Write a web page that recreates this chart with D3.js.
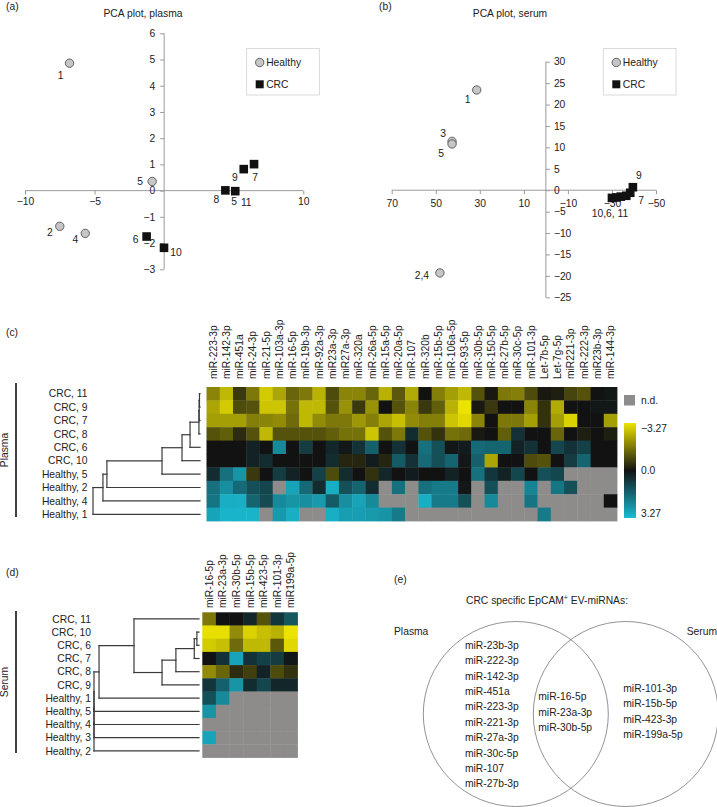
<!DOCTYPE html>
<html>
<head>
<meta charset="utf-8">
<script src="https://cdnjs.cloudflare.com/ajax/libs/d3/7.8.5/d3.min.js"></script>
<style>
body { margin: 0; background: #fff; }
text { font-family: "Liberation Sans", Arial, Helvetica, sans-serif; fill: #222; }
</style>
</head>
<body>
<div id="fig"></div>
<script>
// ---- data ----
// PCA scores [label, PC1, PC2]
var plasmaHealthy = [["1", -6.8, 4.86], ["5", -0.86, 0.35], ["2", -7.5, -1.36], ["4", -5.67, -1.63]];
var plasmaCrc = [["6", -1.26, -1.75], ["10", -0.01, -2.18], ["8", 4.4, 0.01], ["11", 5.11, -0.02], ["9", 5.72, 0.82], ["7", 6.46, 1.01]];
var serumHealthy = [["1", 31.4, 23.4], ["3", 42.6, 11.4], ["5", 42.6, 10.8], ["2,4", 48.1, -19.3]];
var serumCrc = [["10", -30, -1.8], ["6", -32, -1.7], ["11", -34, -1.5], ["8", -36.5, -1.3], ["7", -38.3, -0.6], ["9", -39.5, 0.7]];

var plasmaXTicks = [-10, -5, 5, 10];
var plasmaYTicks = [-3, -2, -1, 0, 1, 2, 3, 4, 5, 6];
var serumXTicks = [70, 50, 30, 10, -10, -30, -50];
var serumYTicks = [-25, -20, -15, -10, -5, 0, 5, 10, 15, 20, 25, 30];

var plasmaMirs = ["miR-223-3p", "miR-142-3p", "miR-451a", "miR-24-3p", "miR-21-5p", "miR-103a-3p", "miR-16-5p",
  "miR-19b-3p", "miR-92a-3p", "miR23a-3p", "miR27a-3p", "miR-320a", "miR-26a-5p", "miR-15a-5p", "miR-20a-5p",
  "miR-107", "miR-320b", "miR-15b-5p", "miR-106a-5p", "miR-93-5p", "miR-30b-5p", "miR-150-5p", "miR-27b-5p",
  "miR-30c-5p", "miR-101-3p", "Let-7b-5p", "Let-7g-5p", "miR221-3p", "miR-222-3p", "miR23b-3p", "miR-144-3p"];
var plasmaSamples = ["CRC, 11", "CRC, 9", "CRC, 7", "CRC, 8", "CRC, 6", "CRC, 10", "Healthy, 5", "Healthy, 2", "Healthy, 4", "Healthy, 1"];
// null = n.d.
var plasmaValues = [
  [-1.8, -2.6, -0.6, -1.6, -2.9, -2.3, -1.3, -1.6, -2.5, -0.9, -1.8, -1.8, -1.3, -2.5, -1.1, -2.4, 0, -1.7, -2.2, -2.6, -1.0, -0.1, -1.6, -1.7, -0.9, -0.1, -0.2, -0.8, -1.0, 0, 0.1],
  [-2.3, -2.9, -0.9, -1.0, -2.8, -2.8, -1.5, -2.6, -2.6, -1.0, -2.0, -0.6, -2.0, 0, -1.0, -1.8, -0.6, -1.2, -2.5, -3.27, -0.1, -0.6, 0, 0, -1.8, -0.5, -2.4, 0, 0, 0.1, 0.1],
  [-2.2, -2.2, -2.2, -1.7, -1.8, -1.9, -1.4, -2.6, -1.9, -1.6, -1.6, -2.1, -1.7, -2.3, -2.7, -1.9, -1.7, -1.7, -2.8, -3.1, -1.8, 0, -1.6, -1.6, -2.2, -0.5, -2.2, -3.0, 0, 0, -2.2],
  [-1.0, -1.2, -0.4, -1.0, -2.6, -1.0, -1.0, -1.0, -1.0, -1.2, -1.5, -1.5, -2.8, -1.0, -1.6, 0.5, -1.0, -0.5, -1.5, -1.4, -0.1, 0, -1.2, 0.6, 0, 0, -1.3, 0, -0.2, 0, -0.2],
  [0, 0, 0, 0.3, 0, 2.3, 0, 0.8, 0, 0.4, 0.1, 0.6, 1.5, 0, 0.6, 0, 1.8, 1.2, 0.1, 0.2, 1.7, 1.6, 1.6, 0.3, 0.6, 0, 1.0, 0.6, 0.9, 0, 0],
  [0, 0, 0, 0.3, 0.5, 0, 0, 0, 0, 0.5, -0.3, -0.3, 0.2, -0.3, 1.4, 0.6, 1.7, 1.2, 1.6, 0.1, 1.5, -2.3, 0, 0, -0.9, -1.0, 0, 0.8, 1.6, 0, 0],
  [0.5, 1.8, 2.5, -0.6, 0, 0.8, 0.3, 0, 0.9, -0.9, 0.5, 0, -0.5, 0.4, 0, 0.2, 0, 0, 0.3, 0, 1.8, 0.7, 0.3, 1.0, 0, 1.2, 1.0, null, null, null, null],
  [1.8, 2.4, 1.7, 1.2, 1.0, null, 2.8, 1.7, 0.5, 3.0, 1.2, 1.6, 0.5, null, 1.8, null, 1.8, 2.0, 2.0, 0.1, null, 1.2, null, null, 2.2, null, 1.9, 1.2, null, null, null],
  [1.9, 3.0, 3.0, 1.6, 1.1, 2.3, 2.5, 2.4, 2.6, 1.4, 2.4, 2.8, 2.3, null, null, null, 3.0, 2.0, 2.0, 1.2, null, 2.3, null, null, 1.9, null, null, null, null, null, 0],
  [2.8, 3.1, 3.1, 3.1, null, 2.6, 3.0, null, null, 3.0, 2.7, 2.7, 2.6, 2.5, 2.0, null, null, null, null, null, null, null, null, null, null, 2.0, null, null, null, null, null]
];
// linkage: [childA, childB, height], leaves = row index, new clusters numbered from n
var plasmaMerges = [[0, 1, 0.05], [10, 2, 0.08], [11, 3, 0.1], [12, 4, 0.93], [13, 5, 1.68], [14, 6, 3.55], [15, 7, 8.7], [16, 8, 9.07], [17, 9, 10]];

var serumMirs = ["miR-16-5p", "miR-23a-3p", "miR-30b-5p", "miR-15b-5p", "miR-423-5p", "miR-101-3p", "miR199a-5p"];
var serumSamples = ["CRC, 11", "CRC, 10", "CRC, 6", "CRC, 7", "CRC, 8", "CRC, 9", "Healthy, 1", "Healthy, 5", "Healthy, 4", "Healthy, 3", "Healthy, 2"];
var serumValues = [
  [-1.6, 0, 0, 0.4, -1.0, 0.7, 1.3],
  [-3.2, -3.2, -1.9, -3.0, -2.7, -2.5, -3.27],
  [-2.9, -2.7, -1.4, -2.6, -2.6, -1.1, -3.1],
  [0, 0.6, 2.8, 0.6, 0.9, 0.8, 0.1],
  [-1.9, -1.3, -0.4, -0.7, 0.3, -0.9, -0.5],
  [0.7, 1.5, 2.5, 0.5, 1.0, 0.4, 0.4],
  [1.2, 2.3, null, null, null, null, null],
  [2.5, null, null, null, null, null, null],
  [null, null, null, null, null, null, null],
  [2.8, null, null, null, null, null, null],
  [null, null, null, null, null, null, null]
];
var serumMerges = [[1, 2, 0.2], [11, 3, 0.45], [12, 4, 2.2], [13, 5, 3.52], [0, 14, 6.19], [15, 6, 9.52], [16, 7, 10], [17, 8, 10], [18, 9, 10], [19, 10, 10]];

var colorTicks = [-3.27, 0, 3.27];
var colorTickLabels = ["\u22123.27", "0.0", "3.27"];

var vennPlasma = ["miR-23b-3p", "miR-222-3p", "miR-142-3p", "miR-451a", "miR-223-3p", "miR-221-3p", "miR-27a-3p", "miR-30c-5p", "miR-107", "miR-27b-3p"];
var vennBoth = ["miR-16-5p", "miR-23a-3p", "miR-30b-5p"];
var vennSerum = ["miR-101-3p", "miR-15b-5p", "miR-423-3p", "miR-199a-5p"];

// ---- label placement (offsets from the mark) ----
var plasmaLabelPos = { "h1": [-9, 12], "h5": [-12, 0], "h2": [-10, 6], "h4": [-10, 6],
  "c6": [-11, 3], "c10": [12, 5], "c8": [-9, 9], "c11": [11, 11], "c9": [-9, 8], "c7": [1, 13] };
var serumLabelPos = { "h1": [-9, 9], "h3": [-9, -8], "h5": [-11, 9], "h2,4": [-18, 3],
  "c9": [6, -12, "9"], "c7": [11, 8, "7"], "c10": [-2, 15, "10,6, 11"] };

var W = 717, H = 807, FS = 10.3;
var svg = d3.select("#fig").append("svg").attr("width", W).attr("height", H);
svg.append("rect").attr("width", W).attr("height", H).attr("fill", "white");

function txt(g, x, y, s, anchor) {
  return g.append("text").attr("x", x).attr("y", y).attr("text-anchor", anchor || "start")
    .style("font-size", FS + "px").text(s);
}

var color = d3.scaleLinear().domain([-3.27, 0, 3.27]).range(["#ece300", "#121212", "#19bcd4"]).clamp(true);
var ndColor = "#8d8c8a";

// ---------- PCA ----------
function pca(cfg) {
  var g = svg.append("g");
  var x = d3.scaleLinear().domain(cfg.xDomain).range(cfg.xRange);
  var y = d3.scaleLinear().domain(cfg.yDomain).range(cfg.yRange);

  var xa = g.append("g").attr("transform", "translate(0," + y(0) + ")")
    .call(d3.axisBottom(x).tickValues(cfg.xTicks).tickSize(4).tickPadding(cfg.xPad).tickSizeOuter(0));
  var ya = g.append("g").attr("transform", "translate(" + x(0) + ",0)")
    .call((cfg.yRight ? d3.axisRight(y) : d3.axisLeft(y)).tickValues(cfg.yTicks).tickSize(4).tickPadding(cfg.yPad).tickSizeOuter(0));
  [xa, ya].forEach(function(a) {
    a.select(".domain").attr("stroke", "#9b9b9b");
    a.selectAll(".tick line").attr("stroke", "#9b9b9b");
    a.selectAll(".tick text").style("font-size", FS + "px").style("font-family", "Liberation Sans, Arial, sans-serif").attr("fill", "#333");
  });
  // axis lines span the full tick range
  xa.select(".domain").attr("d", "M" + x(cfg.xDomain[0]) + ",0H" + x(cfg.xDomain[1]));
  ya.select(".domain").attr("d", "M0," + y(cfg.yDomain[0]) + "V" + y(cfg.yDomain[1]));

  g.selectAll("circle.h").data(cfg.healthy).enter().append("circle")
    .attr("cx", function(d) { return x(d[1]); })
    .attr("cy", function(d) { return y(d[2]); })
    .attr("r", 4.2).attr("fill", "#c6c6c6").attr("stroke", "#444").attr("stroke-width", 0.8);
  g.selectAll("rect.c").data(cfg.crc).enter().append("rect")
    .attr("x", function(d) { return x(d[1]) - 4.3; })
    .attr("y", function(d) { return y(d[2]) - 4.3; })
    .attr("width", 8.6).attr("height", 8.6).attr("fill", "#111");

  function lab(list, prefix) {
    list.forEach(function(d) {
      var p = cfg.labels[prefix + d[0]];
      if (!p) return;
      g.append("text").attr("x", x(d[1]) + p[0]).attr("y", y(d[2]) + p[1])
        .attr("text-anchor", "middle").attr("dy", "0.35em")
        .style("font-size", FS + "px").text(p[2] || d[0]);
    });
  }
  lab(cfg.healthy, "h");
  lab(cfg.crc, "c");

  // legend
  var lg = g.append("g");
  lg.append("rect").attr("x", cfg.legend[0]).attr("y", 48.5).attr("width", cfg.legend[1]).attr("height", 46.5)
    .attr("fill", "none").attr("stroke", "#d2d2d2").attr("stroke-width", 0.8);
  lg.append("circle").attr("cx", cfg.legend[0] + 13).attr("cy", 62.5).attr("r", 4.2)
    .attr("fill", "#c6c6c6").attr("stroke", "#444").attr("stroke-width", 0.8);
  lg.append("rect").attr("x", cfg.legend[0] + 9).attr("y", 80.3).attr("width", 8).attr("height", 8).attr("fill", "#111");
  txt(lg, cfg.legend[0] + 19.5, 66.2, "Healthy");
  txt(lg, cfg.legend[0] + 19.5, 88.2, "CRC");
}

pca({ xDomain: [-10, 10], xRange: [25, 303.3], yDomain: [-3, 6], yRange: [269.3, 33.3],
  xTicks: plasmaXTicks, yTicks: plasmaYTicks, xPad: 3, yPad: 5, yRight: false,
  healthy: plasmaHealthy, crc: plasmaCrc, labels: plasmaLabelPos, legend: [246.7, 72.6] });
pca({ xDomain: [70, -50], xRange: [391.7, 656], yDomain: [-25, 30], yRange: [297.3, 61.7],
  xTicks: serumXTicks, yTicks: serumYTicks, xPad: 5, yPad: 4, yRight: true,
  healthy: serumHealthy, crc: serumCrc, labels: serumLabelPos, legend: [603.3, 72.7] });

txt(svg, 143, 17, "PCA plot, plasma", "middle");
txt(svg, 510, 17, "PCA plot, serum", "middle");
txt(svg, 6, 9.5, "(a)");
txt(svg, 379, 9.5, "(b)");
txt(svg, 6, 336, "(c)");
txt(svg, 6, 576, "(d)");
txt(svg, 394, 582.5, "(e)");

// ---------- heatmaps with dendrograms ----------
function heatmap(cfg) {
  var g = svg.append("g");
  var x = d3.scaleBand().domain(cfg.cols).range(cfg.xRange);
  var y = d3.scaleBand().domain(cfg.rows).range(cfg.yRange);

  cfg.values.forEach(function(row, i) {
    g.selectAll(null).data(row).enter().append("rect")
      .attr("x", function(d, j) { return x(cfg.cols[j]); })
      .attr("y", y(cfg.rows[i]))
      .attr("width", x.bandwidth() + 0.4)
      .attr("height", y.bandwidth() + 0.4)
      .attr("fill", function(d) { return d === null ? ndColor : color(d); });
  });

  g.selectAll("text.col").data(cfg.cols).enter().append("text")
    .attr("transform", function(d) { return "translate(" + (x(d) + x.bandwidth() / 2) + "," + cfg.colLabelY + ") rotate(-90)"; })
    .attr("dy", "0.35em").style("font-size", FS + "px").text(function(d) { return d; });

  g.selectAll("text.row").data(cfg.rows).enter().append("text")
    .attr("x", cfg.rowLabelX).attr("y", function(d) { return y(d) + y.bandwidth() / 2; })
    .attr("dy", "0.35em").attr("text-anchor", "end").style("font-size", FS + "px").text(function(d) { return d; });

  // dendrogram
  var hx = d3.scaleLinear().domain([0, 10]).range(cfg.dendroRange);
  var n = cfg.rows.length;
  var nodes = cfg.rows.map(function(r) { return { y: y(r) + y.bandwidth() / 2, h: 0 }; });
  var lines = [];
  cfg.merges.forEach(function(m) {
    var a = nodes[m[0]], b = nodes[m[1]], xm = hx(m[2]);
    lines.push([hx(a.h), a.y, xm, a.y], [hx(b.h), b.y, xm, b.y], [xm, a.y, xm, b.y]);
    nodes.push({ y: (a.y + b.y) / 2, h: m[2] });
  });
  g.selectAll("line.d").data(lines).enter().append("line")
    .attr("x1", function(d) { return d[0]; }).attr("y1", function(d) { return d[1]; })
    .attr("x2", function(d) { return d[2]; }).attr("y2", function(d) { return d[3]; })
    .attr("stroke", "#3a3a3a").attr("stroke-width", 1.2).attr("stroke-linecap", "square");

  // group bar
  g.append("line").attr("x1", 16).attr("x2", 16).attr("y1", cfg.bar[0]).attr("y2", cfg.bar[1])
    .attr("stroke", "#111").attr("stroke-width", 1.6);
  g.append("text").attr("transform", "translate(8," + ((cfg.bar[0] + cfg.bar[1]) / 2) + ") rotate(-90)")
    .attr("text-anchor", "middle").style("font-size", FS + "px").text(cfg.group);
}

heatmap({ cols: plasmaMirs, rows: plasmaSamples, values: plasmaValues, merges: plasmaMerges,
  xRange: [206.5, 617], yRange: [387, 521], colLabelY: 379, rowLabelX: 87.5,
  dendroRange: [200, 93], bar: [383, 517], group: "Plasma" });
heatmap({ cols: serumMirs, rows: serumSamples, values: serumValues, merges: serumMerges,
  xRange: [202.3, 297.5], yRange: [612.3, 757.5], colLabelY: 608, rowLabelX: 91,
  dendroRange: [199, 94], bar: [611, 753], group: "Serum" });

// ---------- colour legend ----------
var leg = svg.append("g");
leg.append("rect").attr("x", 624).attr("y", 395).attr("width", 11).attr("height", 10.5).attr("fill", ndColor);
txt(leg, 641, 404, "n.d.");
var grad = svg.append("defs").append("linearGradient").attr("id", "cbar")
  .attr("x1", 0).attr("y1", 0).attr("x2", 0).attr("y2", 1);
d3.range(0, 1.0001, 0.1).forEach(function(t) {
  grad.append("stop").attr("offset", t).attr("stop-color", color(-3.27 + t * 6.54));
});
var cy = d3.scaleLinear().domain([-3.27, 3.27]).range([428, 513]);
leg.append("rect").attr("x", 624).attr("y", 423).attr("width", 12).attr("height", 95).attr("fill", "url(#cbar)");
colorTicks.forEach(function(v, i) {
  leg.append("text").attr("x", 641).attr("y", cy(v)).attr("dy", "0.35em")
    .style("font-size", FS + "px").text(colorTickLabels[i]);
});

// ---------- Venn ----------
var venn = svg.append("g");
var title = venn.append("text").attr("x", 547).attr("y", 603.5).attr("text-anchor", "middle").style("font-size", FS + "px");
title.append("tspan").text("CRC specific EpCAM");
title.append("tspan").attr("dy", -3.5).style("font-size", "7px").text("+");
title.append("tspan").attr("dy", 3.5).text(" EV-miRNAs:");
[515.8, 625.8].forEach(function(cx) {
  venn.append("circle").attr("cx", cx).attr("cy", 714).attr("r", 92.5)
    .attr("fill", "none").attr("stroke", "#777").attr("stroke-width", 0.8);
});
txt(venn, 394, 634.5, "Plasma");
txt(venn, 717, 634.5, "Serum", "end");
function vlist(list, x0, y0) {
  var ly = d3.scaleLinear().domain([0, 1]).range([y0, y0 + 15.4]);
  list.forEach(function(s, i) { txt(venn, x0, ly(i) + 3.7, s); });
}
vlist(vennPlasma, 465, 645);
vlist(vennBoth, 538.3, 696.7);
vlist(vennSerum, 623.3, 688.3);
</script>
</body>
</html>
